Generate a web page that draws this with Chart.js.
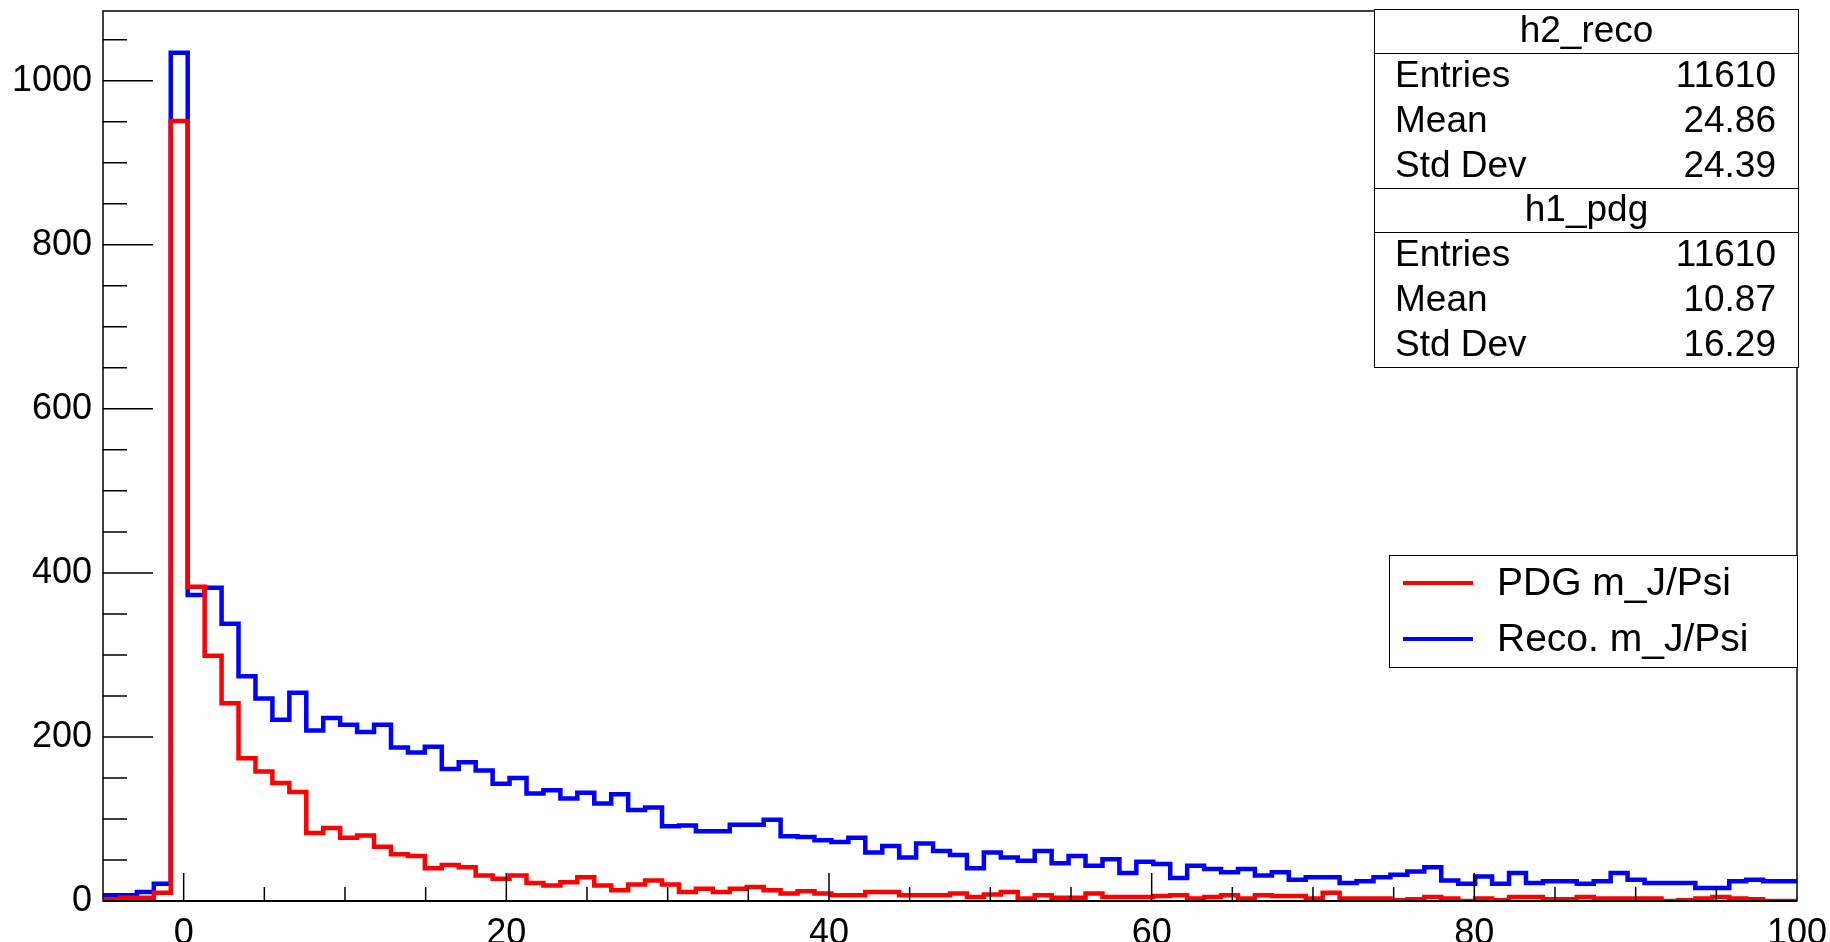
<html>
  <head>
    <meta charset="UTF-8">
    <title>m_J/Psi</title>
    <script src="https://cdn.jsdelivr.net/npm/chart.js@4.4.0/dist/chart.umd.min.js"></script>
    <style>
      html, body {
        margin: 0;
        padding: 0;
        background: #fff;
      }
      .chartWrapper {
        width: 1830px;
        height: 942px;
      }
    </style>
  </head>
  <body>
    <div class="chartWrapper">
      <canvas id="chartMass" width="1830" height="942"></canvas>
    </div>

    <script>
      // histogram binning (100 bins from -5 to 100)
      const xMin = -5;
      const xMax = 100;
      const nBins = 100;

      // bin contents
      const pdgCounts = [
        0, 2, 4, 4, 10, 951, 383, 299, 241, 174,
        158, 144, 133, 83, 89, 77, 80, 66, 57, 55,
        40, 44, 41, 31, 27, 31, 22, 19, 23, 29,
        19, 13, 20, 25, 20, 11, 15, 11, 15, 17,
        13, 9, 12, 9, 7, 7, 11, 11, 7, 7,
        7, 9, 5, 8, 11, 3, 7, 4, 4, 9,
        5, 5, 5, 6, 7, 3, 5, 7, 3, 7,
        6, 6, 3, 10, 3, 3, 3, 1, 2, 5,
        3, 0, 3, 1, 5, 5, 2, 2, 5, 3,
        3, 3, 3, 0, 1, 3, 5, 3, 2, 0
      ];
      const recoCounts = [
        3, 7, 7, 11, 21, 1034, 373, 382, 338, 274,
        247, 221, 254, 208, 223, 215, 206, 215, 187, 181,
        188, 161, 169, 159, 143, 150, 131, 135, 125, 132,
        119, 130, 111, 114, 91, 92, 85, 85, 93, 93,
        99, 79, 78, 74, 72, 77, 59, 67, 53, 70,
        61, 56, 40, 59, 53, 49, 61, 46, 55, 43,
        51, 34, 48, 45, 28, 43, 39, 35, 39, 31,
        35, 26, 29, 29, 22, 24, 29, 32, 36, 41,
        25, 21, 30, 21, 34, 22, 24, 24, 21, 24,
        34, 26, 22, 22, 22, 16, 16, 24, 26, 24
      ];

      const seriesLabels = ['PDG m_J/Psi', 'Reco. m_J/Psi'];
      const seriesColors = ['#ff0000', '#0000ff'];

      const xTickValues = [0, 20, 40, 60, 80, 100];
      const yTickValues = [0, 200, 400, 600, 800, 1000];
      const xMinorStep = 5;
      const yMinorStep = 50;
      const yMax = 1085;

      // stat boxes
      const statNames = ['h2_reco', 'h1_pdg'];
      const statEntries = ['11610', '11610'];
      const statMean = ['24.86', '10.87'];
      const statStdDev = ['24.39', '16.29'];

      const fontFamily = '"Liberation Sans", Arial, Helvetica, sans-serif';
      const binWidth = (xMax - xMin) / nBins;

      // one point per lower bin edge, plus the last upper edge
      function histPoints(counts) {
        const pts = counts.map((c, i) => ({x: xMin + i * binWidth, y: c}));
        pts.push({x: xMax, y: counts[counts.length - 1]});
        return pts;
      }

      const rootStyle = {
        id: 'rootStyle',
        afterDatasetsDraw(chart) {
          const ctx = chart.ctx;
          const a = chart.chartArea;
          const xs = chart.scales.x;
          const ys = chart.scales.y;
          ctx.save();
          ctx.strokeStyle = '#000';

          // frame
          ctx.lineWidth = 1.5;
          ctx.strokeRect(a.left, a.top, a.right - a.left, a.bottom - a.top);
          ctx.lineWidth = 2;
          ctx.beginPath();
          ctx.moveTo(a.left, a.bottom);
          ctx.lineTo(a.right, a.bottom);
          ctx.stroke();

          // ticks pointing inwards
          ctx.lineWidth = 1.5;
          ctx.beginPath();
          for (let v = 0; v <= yMax; v += yMinorStep) {
            const py = ys.getPixelForValue(v);
            const len = yTickValues.includes(v) ? 50 : 24;
            ctx.moveTo(a.left, py);
            ctx.lineTo(a.left + len, py);
          }
          for (let v = 0; v < xMax; v += xMinorStep) {
            const px = xs.getPixelForValue(v);
            const len = xTickValues.includes(v) ? 28 : 14;
            ctx.moveTo(px, a.bottom);
            ctx.lineTo(px, a.bottom - len);
          }
          ctx.stroke();
          ctx.restore();
        },
        afterDraw(chart) {
          const ctx = chart.ctx;
          ctx.save();
          ctx.lineWidth = 1;
          ctx.strokeStyle = '#000';
          ctx.fillStyle = '#000';

          // stats box
          const sx0 = 1374.5, sx1 = 1798.5, sy0 = 9.5;
          const titleH = 44, rowH = 45;
          const blockH = titleH + 3 * rowH;
          ctx.fillStyle = '#fff';
          ctx.fillRect(sx0, sy0, sx1 - sx0, 2 * blockH);
          ctx.strokeRect(sx0, sy0, sx1 - sx0, 2 * blockH);
          ctx.font = '37px ' + fontFamily;
          ctx.textBaseline = 'middle';
          for (let b = 0; b < statNames.length; b++) {
            const top = sy0 + b * blockH;
            ctx.beginPath();
            ctx.moveTo(sx0, top + titleH);
            ctx.lineTo(sx1, top + titleH);
            if (b > 0) {
              ctx.moveTo(sx0, top);
              ctx.lineTo(sx1, top);
            }
            ctx.stroke();
            ctx.fillStyle = '#000';
            ctx.textAlign = 'center';
            ctx.fillText(statNames[b], (sx0 + sx1) / 2, top + titleH / 2);
            const rows = [['Entries', statEntries[b]], ['Mean', statMean[b]], ['Std Dev', statStdDev[b]]];
            rows.forEach((r, i) => {
              const cy = top + titleH + rowH * i + rowH / 2 + 1;
              ctx.textAlign = 'left';
              ctx.fillText(r[0], 1395, cy);
              ctx.textAlign = 'right';
              ctx.fillText(r[1], 1776, cy);
            });
          }

          // legend box
          const lx0 = 1389.5, lx1 = 1797.5, ly0 = 555.5, ly1 = 667.5;
          ctx.fillStyle = '#fff';
          ctx.fillRect(lx0, ly0, lx1 - lx0, ly1 - ly0);
          ctx.strokeRect(lx0, ly0, lx1 - lx0, ly1 - ly0);
          ctx.font = '39px ' + fontFamily;
          ctx.textAlign = 'left';
          chart.data.datasets.forEach((ds, i) => {
            const cy = 583 + i * 56;
            ctx.strokeStyle = ds.borderColor;
            ctx.lineWidth = 4;
            ctx.beginPath();
            ctx.moveTo(1403, cy);
            ctx.lineTo(1473, cy);
            ctx.stroke();
            ctx.fillStyle = '#000';
            ctx.fillText(ds.label, 1497, cy + 1);
          });
          ctx.restore();
        }
      };

      const chartMass = new Chart(document.getElementById('chartMass'), {
        type: 'line',
        data: {
          datasets: [
            {
              label: seriesLabels[0],
              data: histPoints(pdgCounts),
              borderColor: seriesColors[0],
              borderWidth: 4.5,
            },
            {
              label: seriesLabels[1],
              data: histPoints(recoCounts),
              borderColor: seriesColors[1],
              borderWidth: 4.5,
            }
          ]
        },
        options: {
          responsive: false,
          animation: false,
          parsing: false,
          datasets: {
            line: {
              stepped: 'after',
              pointRadius: 0,
              fill: false,
              tension: 0,
            }
          },
          layout: {
            padding: {top: 11, right: 33, left: 0, bottom: 0}
          },
          scales: {
            x: {
              type: 'linear',
              min: xMin,
              max: xMax,
              grid: {display: false, drawTicks: false},
              border: {display: false},
              afterBuildTicks: (scale) => {
                scale.ticks = xTickValues.map(v => ({value: v}));
              },
              afterFit: (scale) => {
                scale.height = 41;
                scale.paddingLeft = 0;
                scale.paddingRight = 0;
              },
              ticks: {
                color: '#000',
                padding: 11,
                maxRotation: 0,
                autoSkip: false,
                font: {family: fontFamily, size: 36},
                callback: (v) => String(v),
              }
            },
            y: {
              type: 'linear',
              min: 0,
              max: yMax,
              grid: {display: false, drawTicks: false},
              border: {display: false},
              afterBuildTicks: (scale) => {
                scale.ticks = yTickValues.map(v => ({value: v}));
              },
              afterFit: (scale) => {
                scale.width = 103;
                scale.paddingTop = 0;
                scale.paddingBottom = 0;
              },
              ticks: {
                color: '#000',
                padding: 11,
                font: {family: fontFamily, size: 36},
                callback: (v) => String(v),
              }
            }
          },
          plugins: {
            legend: {display: false},
            tooltip: {enabled: false},
          },
        },
        plugins: [rootStyle]
      });
    </script>
  </body>
</html>
